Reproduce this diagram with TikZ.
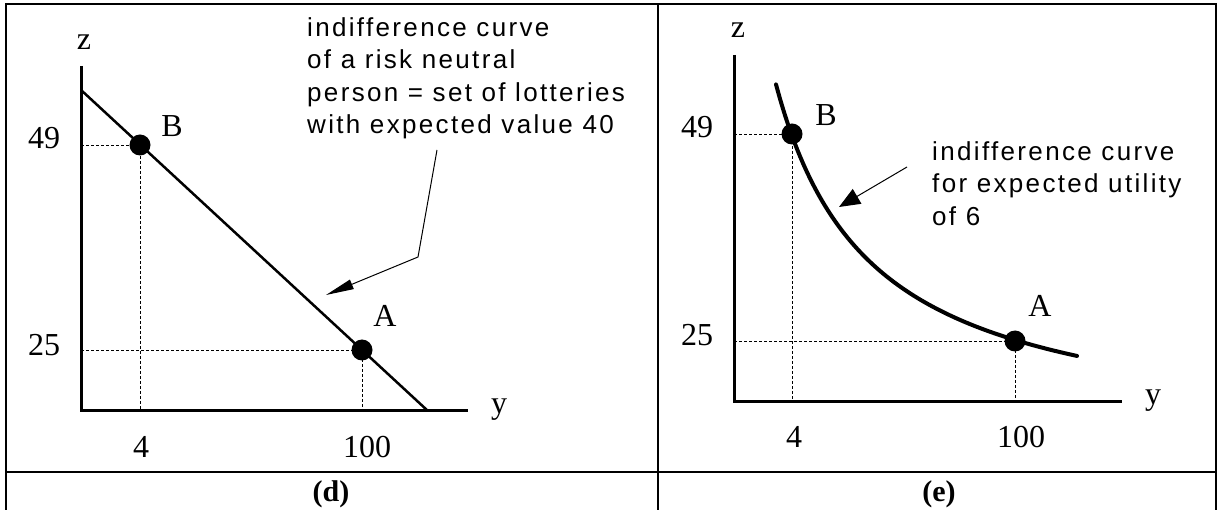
\documentclass[tikz,border=0pt]{standalone}
\usepackage{fontspec}
\setmainfont{Liberation Serif}
\newfontfamily\annfont[LetterSpace=9]{Liberation Sans}
\usetikzlibrary{arrows.meta}
\begin{document}
\begin{tikzpicture}[x=1pt,y=-1pt,
  frame/.style={line width=2.5pt},
  axis/.style={line width=3pt, line join=miter},
  guide/.style={line width=0.9pt, dash pattern=on 3pt off 2pt},
  dot/.style={circle, fill=black, inner sep=0pt, minimum size=21pt},
  lbl/.style={font=\fontsize{32}{32}\selectfont, inner sep=0pt},
  ann/.style={font=\annfont\fontsize{26}{32.5}\selectfont, align=left, inner sep=0pt, anchor=north west},
  pointerL/.style={line width=1pt, -{Triangle[length=28pt,width=10pt]}},
  pointerR/.style={line width=1pt, -{Triangle[length=21pt,width=17pt]}},
]
\useasboundingbox (0,0) rectangle (1221,510);
% table frame
\draw[frame] (6,512) -- (6,4) -- (1216,4) -- (1216,512);
\draw[frame] (6,472) -- (1216,472);
\draw[frame] (658,4) -- (658,512);

% ---------- left panel (d)
\coordinate (Lo) at (81,411);
\coordinate (Lzt) at (81,66);
\coordinate (Lye) at (468,411);
\draw[axis] (Lzt) -- (Lo) -- (Lye);
\coordinate (L1) at (81,90);
\coordinate (L2) at (428,411);
\draw[line width=2.5pt] (L1) -- (L2);
\node[dot] (LB) at (140,145) {};
\node[dot] (LA) at (362,350) {};
\draw[guide] (LB.center -| Lo) -- (LB.center) -- (LB.center |- Lo);
\draw[guide] (LA.center -| Lo) -- (LA.center) -- (LA.center |- Lo);
\node[lbl] (Lz) at (84,42) {z};
\node[lbl] (Ly) at (499,410) {y};
\node[lbl] (L49) at (44,138) {49};
\node[lbl] (L25) at (44,345) {25};
\node[lbl] (LBl) at (172,126) {B};
\node[lbl] (LAl) at (385,316) {A};
\node[lbl] (L4) at (141,447) {4};
\node[lbl] (L100) at (367,447) {100};
\node[lbl, font=\fontsize{30}{30}\selectfont] (Ld) at (331,494) {\textbf{(d)}};
\node[ann] (Ltxt) at (307,17) {indifference curve\\of a risk neutral\\person = set of lotteries\\with expected value 40};
\coordinate (La0) at (437,150);
\coordinate (La1) at (418,257);
\coordinate (La2) at (326,295);
\draw[pointerL] (La0) -- (La1) -- (La2);

% ---------- right panel (e)
\coordinate (Ro) at (734,402);
\coordinate (Rzt) at (734,55);
\coordinate (Rye) at (1122,402);
\draw[axis] (Rzt) -- (Ro) -- (Rye);
\draw[line width=4pt, line cap=round] plot[domain=776:1077, samples=80, smooth] (\x, {442-341.13/((\x-680.6)/100)});
\node[dot] (RB) at (792,134) {};
\node[dot] (RA) at (1015,341) {};
\draw[guide] (RB.center -| Ro) -- (RB.center) -- (RB.center |- Ro);
\draw[guide] (RA.center -| Ro) -- (RA.center) -- (RA.center |- Ro);
\node[lbl] (Rz) at (738,30) {z};
\node[lbl] (Ry) at (1153,401) {y};
\node[lbl] (R49) at (697,127) {49};
\node[lbl] (R25) at (697,335) {25};
\node[lbl] (RBl) at (826,115) {B};
\node[lbl] (RAl) at (1040,306) {A};
\node[lbl] (R4) at (794,437) {4};
\node[lbl] (R100) at (1021,437) {100};
\node[lbl, font=\fontsize{30}{30}\selectfont] (Re) at (939,494) {\textbf{(e)}};
\node[ann] (Rtxt) at (932,141) {indifference curve\\for expected utility\\of 6};
\coordinate (Ra0) at (907,167);
\coordinate (Ra1) at (839,207);
\draw[pointerR] (Ra0) -- (Ra1);
\end{tikzpicture}
\end{document}
